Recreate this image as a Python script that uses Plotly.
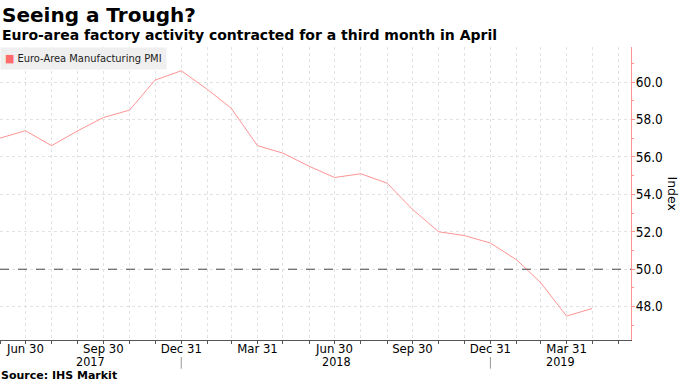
import plotly.graph_objects as go
import pandas as pd

# ---- data ----
dates = ["2017-05-31", "2017-06-30", "2017-07-31", "2017-08-31", "2017-09-30", "2017-10-31",
         "2017-11-30", "2017-12-31", "2018-01-31", "2018-02-28", "2018-03-31", "2018-04-30",
         "2018-05-31", "2018-06-30", "2018-07-31", "2018-08-31", "2018-09-30", "2018-10-31",
         "2018-11-30", "2018-12-31", "2019-01-31", "2019-02-28", "2019-03-31", "2019-04-30"]
pmi = [57.0, 57.4, 56.6, 57.4, 58.1, 58.5, 60.1, 60.6, 59.6, 58.6, 56.6, 56.2,
       55.5, 54.9, 55.1, 54.6, 53.2, 52.0, 51.8, 51.4, 50.5, 49.3, 47.5, 47.9]
series_name = "Euro-Area Manufacturing PMI"

tick_dates = ["2017-06-30", "2017-09-30", "2017-12-31", "2018-03-31",
              "2018-06-30", "2018-09-30", "2018-12-31", "2019-03-31"]
tick_labels = ["Jun 30", "Sep 30", "Dec 31", "Mar 31", "Jun 30", "Sep 30", "Dec 31", "Mar 31"]
month_ends = [d.strftime("%Y-%m-%d") for d in pd.date_range("2017-05-31", "2019-06-30", freq="ME")]
year_labels = ["2017", "2018", "2019"]
year_centers = ["2017-09-15", "2018-07-02", "2019-03-24"]
year_breaks = ["2017-12-31", "2018-12-31"]

x_range = ["2017-05-31", "2019-06-15"]
y_range = [46.22, 61.87]

LINE = "#ff9494"
FONT = "DejaVu Sans"
COND = "DejaVu Sans Condensed, DejaVu Sans"
GRID = "#e2e2e2"

fig = go.Figure()
fig.add_trace(go.Scatter(x=dates, y=pmi, mode="lines", line=dict(color=LINE, width=1),
                         name=series_name, showlegend=False, hoverinfo="skip"))

# 50 reference line
fig.add_shape(type="line", xref="paper", yref="y", x0=0, x1=1, y0=50, y1=50,
              line=dict(color="#444444", width=1, dash="dash"))

# year separators under the axis
for yb in year_breaks:
    fig.add_shape(type="line", xref="x", yref="paper", x0=yb, x1=yb, y0=-0.058, y1=-0.098,
                  line=dict(color="#999999", width=1))

annotations = [
    dict(text="<b>Seeing a Trough?</b>", x=0, y=1.109, xref="paper", yref="paper",
         xanchor="left", yanchor="middle", showarrow=False,
         font=dict(family=FONT, size=20, color="#000000")),
    dict(text="<b>Euro-area factory activity contracted for a third month in April</b>",
         x=0, y=1.041, xref="paper", yref="paper", xanchor="left", yanchor="middle",
         showarrow=False, font=dict(family=FONT, size=14, color="#000000")),
    dict(text="<b>Source: IHS Markit</b>", x=0, y=-0.1468, xref="paper", yref="paper",
         xanchor="left", yanchor="bottom", showarrow=False, borderpad=0,
         font=dict(family=FONT, size=11, color="#000000")),
    dict(text="Index", x=1.065, y=0.50, xref="paper", yref="paper", textangle=90,
         xanchor="center", yanchor="middle", showarrow=False,
         font=dict(family=FONT, size=12.5, color="#000000")),
    # legend box
    dict(text="<span style='color:#ff6b6b'>■</span> " + series_name,
         x=0, y=1, xref="paper", yref="paper", xanchor="left", yanchor="top",
         showarrow=False, bgcolor="#efefef", borderpad=4,
         font=dict(family=COND, size=11, color="#222222")),
]
for lab, c in zip(year_labels, year_centers):
    annotations.append(dict(text=lab, x=c, y=-0.075, xref="x", yref="paper",
                            xanchor="center", yanchor="middle", showarrow=False,
                            borderpad=0,
                            font=dict(family=COND, size=12.5, color="#000000")))

fig.update_layout(
    width=680, height=383,
    margin=dict(l=0, r=49, t=47, b=43),
    paper_bgcolor="white", plot_bgcolor="white",
    font=dict(family=FONT, size=12, color="#000000"),
    annotations=annotations,
    showlegend=False,
    xaxis=dict(
        type="date", range=x_range,
        tickmode="array", tickvals=tick_dates, ticktext=tick_labels,
        showgrid=True, gridcolor=GRID, griddash="dot", gridwidth=1,
        ticks="outside", ticklen=3, tickcolor="#555555",
        showline=True, linecolor="#555555", linewidth=1,
        tickfont=dict(family=COND, size=13, color="#000000"),
        ticklabelstandoff=-7,
        minor=dict(tickmode="array", tickvals=month_ends, showgrid=True,
                   gridcolor=GRID, griddash="dot", gridwidth=1,
                   ticks="outside", ticklen=3, tickcolor="#555555"),
        zeroline=False,
    ),
    yaxis=dict(
        side="right", range=y_range,
        tickmode="linear", tick0=48, dtick=2, tickformat=".1f",
        showgrid=True, gridcolor=GRID, griddash="dot", gridwidth=1,
        ticks="outside", ticklen=3, tickcolor=LINE,
        showline=True, linecolor=LINE, linewidth=1,
        tickfont=dict(family=COND, size=13.5, color="#000000"),
        ticklabelstandoff=-2,
        minor=dict(dtick=1, tick0=47, ticks="outside", ticklen=2, tickcolor=LINE, showgrid=False),
        zeroline=False,
    ),
)

fig.write_html("out.html", config={"displayModeBar": False},
               post_script="document.body.style.margin='0';document.body.style.overflow='hidden';")
